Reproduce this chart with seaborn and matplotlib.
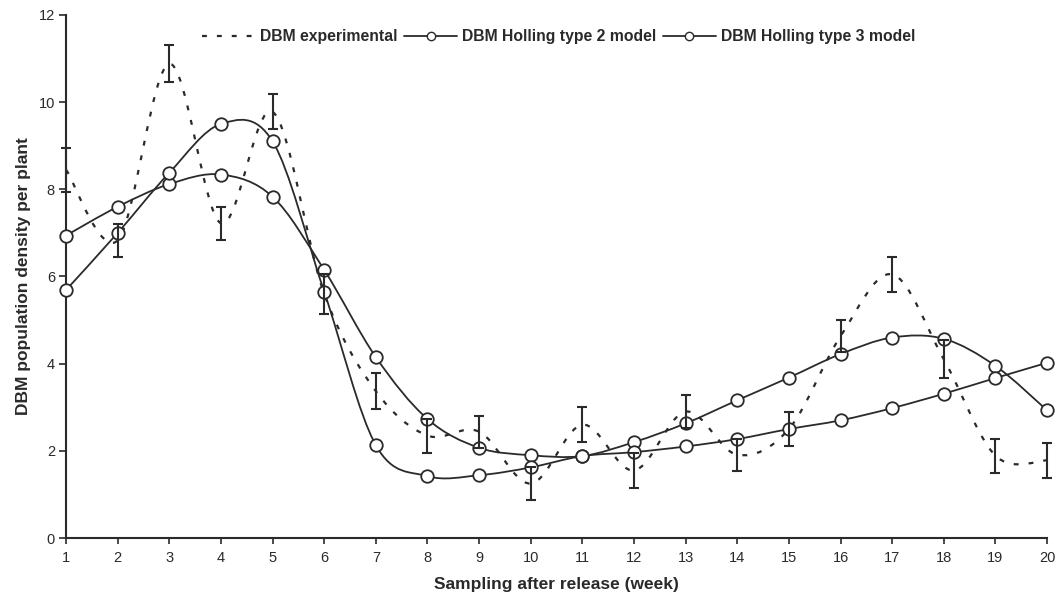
import numpy as np
import pandas as pd
import seaborn as sns
import matplotlib
matplotlib.use("Agg")
import matplotlib.pyplot as plt
from matplotlib.path import Path
from matplotlib.patches import PathPatch
from matplotlib.lines import Line2D

# ---------------- data ----------------
weeks = list(range(1, 21))
exp_mean = [8.45, 6.83, 10.88, 7.22, 9.78, 5.6, 3.37, 2.35, 2.44, 1.25,
            2.6, 1.55, 2.9, 1.91, 2.5, 4.63, 6.05, 4.1, 1.89, 1.78]
exp_err = [0.5, 0.38, 0.42, 0.38, 0.4, 0.45, 0.42, 0.39, 0.37, 0.37,
           0.4, 0.4, 0.37, 0.37, 0.38, 0.37, 0.4, 0.44, 0.39, 0.4]
holling2 = [6.94, 7.6, 8.12, 8.34, 7.83, 6.15, 4.15, 2.73, 2.07, 1.9,
            1.88, 2.2, 2.63, 3.16, 3.68, 4.22, 4.6, 4.57, 3.95, 2.93]
holling3 = [5.69, 7.0, 8.38, 9.5, 9.1, 5.65, 2.13, 1.42, 1.44, 1.62,
            1.88, 1.97, 2.1, 2.27, 2.5, 2.7, 2.98, 3.31, 3.67, 4.02]
labels = ["DBM experimental", "DBM Holling type 2 model", "DBM Holling type 3 model"]
xticks = list(range(1, 21))
yticks = [0, 2, 4, 6, 8, 10, 12]

df = pd.DataFrame({"week": weeks, "exp": exp_mean, "err": exp_err,
                   "h2": holling2, "h3": holling3})

sns.set_theme(style="ticks")
plt.rcParams["font.family"] = ["Liberation Sans", "DejaVu Sans"]

INK = "#2a2a2a"

fig = plt.figure(figsize=(10.6, 6.02), dpi=100)
ax = fig.add_axes([0.0623, 0.1063, 0.9255, 0.8688])


def smooth_line(ax, x, y, **kw):
    """Draw a smooth (Catmull-Rom style) curve through the data points."""
    x = np.asarray(x, float)
    y = np.asarray(y, float)
    n = len(x)
    verts = [(x[0], y[0])]
    codes = [Path.MOVETO]
    for i in range(n - 1):
        p0 = (x[i - 1], y[i - 1]) if i > 0 else (x[i], y[i])
        p1 = (x[i], y[i])
        p2 = (x[i + 1], y[i + 1])
        p3 = (x[i + 2], y[i + 2]) if i + 2 < n else p2
        c1 = (p1[0] + (p2[0] - p0[0]) / 6, p1[1] + (p2[1] - p0[1]) / 6)
        c2 = (p2[0] - (p3[0] - p1[0]) / 6, p2[1] - (p3[1] - p1[1]) / 6)
        verts += [c1, c2, p2]
        codes += [Path.CURVE4] * 3
    ax.add_patch(PathPatch(Path(verts, codes), fill=False, **kw))


# experimental: dashed smooth line + error bars
smooth_line(ax, df["week"], df["exp"], edgecolor=INK, lw=1.6,
            linestyle=(0, (2.2, 4.5)), zorder=2)
ax.errorbar(df["week"], df["exp"], yerr=df["err"], fmt="none",
            ecolor=INK, elinewidth=1.5, capsize=3.5, capthick=1.5,
            zorder=4, clip_on=False)

# models: smooth lines + open circle markers
for col in ["h2", "h3"]:
    smooth_line(ax, df["week"], df[col], edgecolor=INK, lw=1.3, zorder=2)
    sns.lineplot(data=df, x="week", y=col, ax=ax, linestyle="", marker="o",
                 markersize=9, markerfacecolor="white", markeredgecolor=INK,
                 markeredgewidth=1.3, zorder=3, clip_on=False)

ax.set_xlim(1, 20)
ax.set_ylim(0, 12)
ax.set_xticks(xticks)
ax.set_yticks(yticks)
ax.set_xticklabels([str(t) for t in xticks])
ax.set_yticklabels([str(t) for t in yticks])

for side in ["top", "right"]:
    ax.spines[side].set_visible(False)
for side in ["left", "bottom"]:
    ax.spines[side].set_linewidth(1.5)
    ax.spines[side].set_color(INK)
ax.tick_params(axis="both", colors=INK, labelsize=10.5, width=1.2)
ax.tick_params(axis="y", length=5, pad=3)
ax.tick_params(axis="x", length=4, pad=5)

ax.set_xlabel("Sampling after release (week)", fontsize=12.5,
              fontweight="bold", color=INK)
ax.set_ylabel("DBM population density per plant", fontsize=12.5,
              fontweight="bold", color=INK)
ax.xaxis.set_label_coords(0.5, -0.074)
ax.yaxis.set_label_coords(-0.036, 0.5)

handles = [
    Line2D([], [], color=INK, lw=1.6, linestyle=(0, (2.2, 4.5))),
    Line2D([], [], color=INK, lw=1.3, marker="o", markersize=6,
           markerfacecolor="white", markeredgecolor=INK),
    Line2D([], [], color=INK, lw=1.3, marker="o", markersize=6,
           markerfacecolor="white", markeredgecolor=INK),
]
leg = ax.legend(handles, labels, loc="center", bbox_to_anchor=(0.502, 0.958),
                ncol=3, frameon=False, handlelength=3.4, handletextpad=0.3,
                columnspacing=0.4, prop={"size": 11.3, "weight": "bold"})
for t in leg.get_texts():
    t.set_color(INK)

fig.savefig("out.png", dpi=100, facecolor="white")
